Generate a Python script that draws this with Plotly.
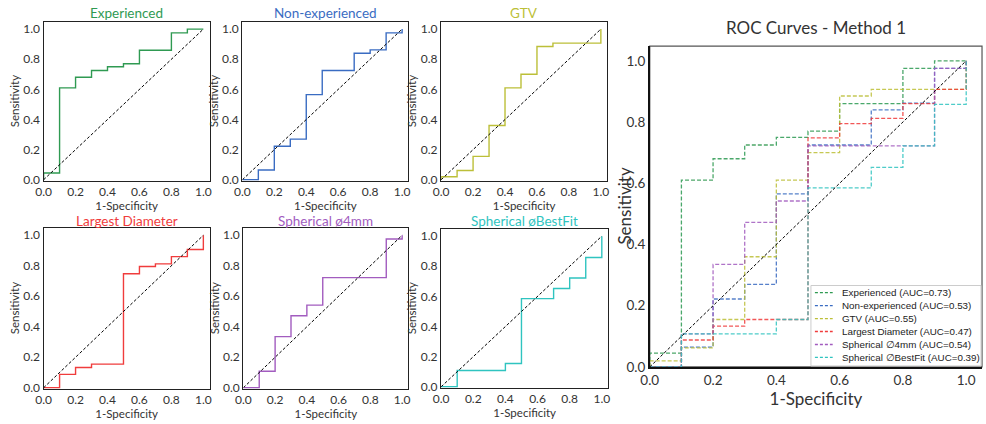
import plotly.graph_objects as go

# ROC step vertices (false positive rate, true positive rate) per reader / method
names = ["Experienced", "Non-experienced", "GTV", "Largest Diameter",
         "Spherical ø4mm", "Spherical øBestFit"]
legend_names = ["Experienced", "Non-experienced", "GTV", "Largest Diameter",
                "Spherical ∅4mm", "Spherical ∅BestFit"]
aucs = [0.73, 0.53, 0.55, 0.47, 0.54, 0.39]

fpr_experienced = [0, 0, 0.1, 0.2, 0.3, 0.4, 0.5, 0.6, 0.8, 0.9, 1.0]
tpr_experienced = [0, 0.045, 0.61, 0.68, 0.725, 0.75, 0.77, 0.86, 0.975, 1.0, 1.0]

fpr_nonexp = [0, 0.1, 0.2, 0.3, 0.4, 0.5, 0.7, 0.8, 0.9, 1.0]
tpr_nonexp = [0, 0.065, 0.222, 0.27, 0.565, 0.725, 0.84, 0.862, 0.975, 1.0]

fpr_gtv = [0, 0, 0.1, 0.2, 0.3, 0.4, 0.5, 0.6, 0.7, 1.0]
tpr_gtv = [0, 0.02, 0.062, 0.155, 0.36, 0.61, 0.70, 0.885, 0.907, 1.0]

fpr_diam = [0, 0.1, 0.2, 0.3, 0.5, 0.6, 0.7, 0.8, 0.9, 1.0]
tpr_diam = [0, 0.088, 0.133, 0.155, 0.748, 0.795, 0.812, 0.86, 0.907, 1.0]

fpr_sph4 = [0, 0.1, 0.2, 0.3, 0.4, 0.5, 0.9, 1.0]
tpr_sph4 = [0, 0.108, 0.335, 0.472, 0.542, 0.722, 0.975, 1.0]

fpr_sphbf = [0, 0.1, 0.4, 0.5, 0.7, 0.8, 0.9, 1.0]
tpr_sphbf = [0, 0.108, 0.155, 0.585, 0.652, 0.722, 0.858, 1.0]

curves = [(fpr_experienced, tpr_experienced), (fpr_nonexp, tpr_nonexp),
          (fpr_gtv, tpr_gtv), (fpr_diam, tpr_diam),
          (fpr_sph4, tpr_sph4), (fpr_sphbf, tpr_sphbf)]
colors = ["#2f9a52", "#3a6cc2", "#bcbf38", "#f03c3c", "#a25cbf", "#2fc4c0"]

tick_vals = [0.0, 0.2, 0.4, 0.6, 0.8, 1.0]
tick_text = ["0.0", "0.2", "0.4", "0.6", "0.8", "1.0"]
chance = [0, 1]

W, H = 986, 424
FONT = "Lato"
TXT = "#333333"

# panel frames in pixels: (left, right, top, bottom) and title centre heights
panels = [(35, 203, 22, 184), (236, 404, 22, 184), (437, 605, 22, 184),
          (35, 203, 232, 396), (237, 404, 232, 396), (437, 606, 233, 395)]
title_y = [13, 13, 13, 225, 225, 225]
big = (648, 984, 47, 374)


def dom_x(l, r):
    return [l / W, r / W]


def dom_y(t, b):
    return [1 - b / H, 1 - t / H]


fig = go.Figure()
layout = dict(width=W, height=H, margin=dict(l=0, r=0, t=0, b=0),
              paper_bgcolor="white", plot_bgcolor="white", showlegend=False,
              font=dict(family=FONT, color=TXT))
annotations = []
shapes = []

for i, (name, (fx, ty), col) in enumerate(zip(names, curves, colors)):
    k = i + 1
    xa, ya = ("x" if k == 1 else f"x{k}"), ("y" if k == 1 else f"y{k}")
    fig.add_trace(go.Scatter(x=fx, y=ty, mode="lines", line_shape="hv",
                             line=dict(color=col, width=1.4),
                             xaxis=xa, yaxis=ya, hoverinfo="skip"))
    fig.add_trace(go.Scatter(x=chance, y=chance, mode="lines",
                             line=dict(color="black", width=1, dash="3px,2px"),
                             xaxis=xa, yaxis=ya, hoverinfo="skip"))
    l, r, t, b = panels[i]
    common = dict(showgrid=False, zeroline=False, showline=True, mirror=True,
                  linecolor="#222222", linewidth=1.3, ticks="",
                  tickvals=tick_vals, ticktext=tick_text,
                  tickfont=dict(family=FONT, size=12, color=TXT))
    layout[f"xaxis{k}"] = dict(common, domain=dom_x(l, r), range=[0, 1.04],
                               anchor=ya,
                               title=dict(text="1-Specificity", standoff=3,
                                          font=dict(family=FONT, size=11.5, color=TXT)))
    layout[f"yaxis{k}"] = dict(common, domain=dom_y(t, b), range=[-0.005, 1.05],
                               anchor=xa,
                               title=dict(text="Sensitivity", standoff=1,
                                          font=dict(family=FONT, size=11.5, color=TXT)))
    annotations.append(dict(text=name, xref="paper", yref="paper",
                            x=(l + r) / 2 / W, y=1 - title_y[i] / H,
                            xanchor="center", yanchor="middle", showarrow=False,
                            font=dict(family=FONT, size=13.5, color=col)))

# combined panel
for i, ((fx, ty), col) in enumerate(zip(curves, colors)):
    fig.add_trace(go.Scatter(x=fx, y=ty, mode="lines", line_shape="hv",
                             line=dict(color=col, width=1.3, dash="4px,2px"),
                             opacity=0.85, xaxis="x7", yaxis="y7",
                             hoverinfo="skip"))
fig.add_trace(go.Scatter(x=chance, y=chance, mode="lines",
                         line=dict(color="black", width=1, dash="3px,2px"),
                         xaxis="x7", yaxis="y7", hoverinfo="skip"))

l, r, t, b = big
bigc = dict(showgrid=False, zeroline=False, showline=True, mirror=False,
            linecolor="#111111", linewidth=1.6, ticks="",
            tickvals=tick_vals, ticktext=tick_text,
            tickfont=dict(family=FONT, size=13.5, color=TXT))
layout["xaxis7"] = dict(bigc, domain=dom_x(l, r), range=[0, 1.05], anchor="y7",
                        title=dict(text="1-Specificity", standoff=2,
                                   font=dict(family=FONT, size=17, color=TXT)))
layout["yaxis7"] = dict(bigc, domain=dom_y(t, b), range=[0, 1.048], anchor="x7")
shapes.append(dict(type="rect", xref="x7 domain", yref="y7 domain",
                   x0=0, x1=1, y0=0, y1=1, line=dict(color="#555555", width=1.2),
                   layer="below"))
annotations.append(dict(text="Sensitivity", xref="paper", yref="paper",
                        x=622 / W, y=1 - (t + b) / 2 / H, xanchor="center",
                        yanchor="middle", textangle=-90, showarrow=False,
                        font=dict(family=FONT, size=17, color=TXT)))
annotations.append(dict(text="ROC Curves - Method 1", xref="paper", yref="paper",
                        x=(l + r) / 2 / W, y=1 - 28 / H, xanchor="center",
                        yanchor="middle", showarrow=False,
                        font=dict(family=FONT, size=17, color=TXT)))

# legend box for the combined panel
lg_l, lg_r, lg_t, lg_b = 811, 983, 291, 373
shapes.append(dict(type="rect", xref="paper", yref="paper",
                   x0=lg_l / W, x1=lg_r / W, y0=1 - lg_b / H, y1=1 - lg_t / H,
                   line=dict(color="#cccccc", width=1), fillcolor="rgba(255,255,255,0.85)",
                   layer="above"))
for i, (nm, a, col) in enumerate(zip(legend_names, aucs, colors)):
    yc = 298.3 + i * 13.2
    shapes.append(dict(type="line", xref="paper", yref="paper",
                       x0=815 / W, x1=833 / W, y0=1 - yc / H, y1=1 - yc / H,
                       line=dict(color=col, width=1.3, dash="3px,2px"), layer="above"))
    annotations.append(dict(text=f"{nm} (AUC={a:.2f})", xref="paper", yref="paper",
                            x=840 / W, y=1 - yc / H, xanchor="left", yanchor="middle",
                            showarrow=False,
                            font=dict(family="Liberation Sans", size=9.8, color="#222222")))

layout["annotations"] = annotations
layout["shapes"] = shapes
fig.update_layout(**layout)
fig.write_html("out.html")
